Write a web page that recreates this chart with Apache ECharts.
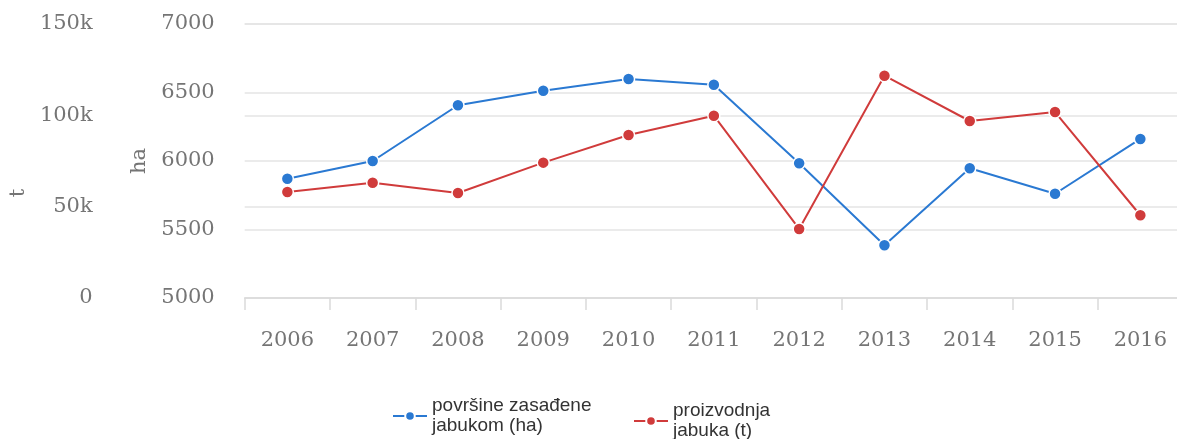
<!DOCTYPE html>
<html>
<head>
<meta charset="utf-8">
<script src="https://cdn.jsdelivr.net/npm/echarts@6/dist/echarts.min.js"></script>
<style>html,body{margin:0;padding:0;background:#fff;overflow:hidden;width:1177px;height:439px;}#c{width:1183px;height:439px;}</style>
</head>
<body>
<div id="c"></div>
<script>
var years = ['2006','2007','2008','2009','2010','2011','2012','2013','2014','2015','2016'];
var areaHa = [5870, 6000, 6407, 6513, 6599, 6557, 5983, 5385, 5947, 5761, 6161];
var productionT = [58000, 63100, 57500, 74100, 89200, 99800, 37800, 121700, 96900, 101800, 45300];
var seriesNames = ['površine zasađene jabukom (ha)', 'proizvodnja jabuka (t)'];
var legendLabels = ['površine zasađene\njabukom (ha)', 'proizvodnja\njabuka (t)'];
var haTicks = [5000, 7000, 500];
var tTicks = [0, 150000, 50000];

var chart = echarts.init(document.getElementById('c'));
var labelFont = 'DejaVu Serif';
var gray = '#757575';
var blue = '#2a79d2';
var red = '#d03b3b';

chart.setOption({
  animation: false,
  grid: { left: 243, top: 24, right: 0, bottom: 141, containLabel: false },
  legend: [
    { data: [seriesNames[0]], left: 387, top: 391, itemWidth: 34, itemHeight: 12, itemGap: 10,
      formatter: function(){ return legendLabels[0]; },
      textStyle: { fontFamily: 'Liberation Sans', fontSize: 19, color: '#333', lineHeight: 20 } },
    { data: [seriesNames[1]], left: 628, top: 396, itemWidth: 34, itemHeight: 12, itemGap: 8,
      formatter: function(){ return legendLabels[1]; },
      textStyle: { fontFamily: 'Liberation Sans', fontSize: 19, color: '#333', lineHeight: 20 } }
  ],
  xAxis: {
    type: 'category', data: years, boundaryGap: true,
    axisLine: { lineStyle: { color: '#dadada', width: 1.5 } },
    axisTick: { show: true, length: 12, lineStyle: { color: '#dadada', width: 1.5 } },
    axisLabel: { fontFamily: labelFont, fontSize: 21, color: gray, margin: 32 }
  },
  yAxis: [
    { type: 'value', name: 'ha', nameLocation: 'middle', nameGap: 89, position: 'left',
      min: haTicks[0], max: haTicks[1], interval: haTicks[2],
      nameTextStyle: { fontFamily: labelFont, fontSize: 21, color: gray },
      axisLine: { show: false }, axisTick: { show: false },
      axisLabel: { fontFamily: labelFont, fontSize: 21, color: gray, margin: 30,
        formatter: function(v){ return String(v); } },
      splitLine: { lineStyle: { color: '#e4e4e4', width: 1.5 } } },
    { type: 'value', name: 't', nameLocation: 'middle', nameGap: 88, position: 'left', offset: 122,
      min: tTicks[0], max: tTicks[1], interval: tTicks[2],
      nameTextStyle: { fontFamily: labelFont, fontSize: 21, color: gray, padding: [0, 64, 0, 0] },
      axisLine: { show: false }, axisTick: { show: false },
      axisLabel: { fontFamily: labelFont, fontSize: 21, color: gray, margin: 30,
        formatter: function(v){ return v === 0 ? '0' : (v/1000) + 'k'; } },
      splitLine: { lineStyle: { color: '#e4e4e4', width: 1.5 } } }
  ],
  series: [
    { name: seriesNames[0], type: 'line', yAxisIndex: 0, data: areaHa,
      symbol: 'circle', symbolSize: 12, color: blue,
      lineStyle: { color: blue, width: 2 },
      itemStyle: { color: blue, borderColor: '#fff', borderWidth: 1.5 } },
    { name: seriesNames[1], type: 'line', yAxisIndex: 1, data: productionT,
      symbol: 'circle', symbolSize: 12, color: red,
      lineStyle: { color: red, width: 2 },
      itemStyle: { color: red, borderColor: '#fff', borderWidth: 1.5 } }
  ]
});
</script>
</body>
</html>
